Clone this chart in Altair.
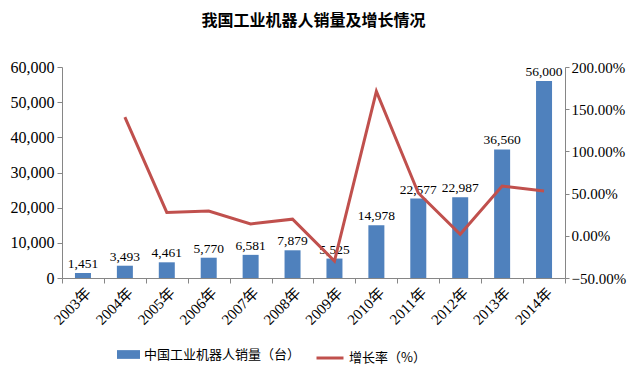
import altair as alt
import pandas as pd

years = ["2003年", "2004年", "2005年", "2006年", "2007年", "2008年",
         "2009年", "2010年", "2011年", "2012年", "2013年", "2014年"]
sales = [1451, 3493, 4461, 5770, 6581, 7879, 5525, 14978, 22577, 22987, 36560, 56000]
growth = [None, 1.407, 0.277, 0.293, 0.141, 0.197, -0.299, 1.711, 0.507, 0.018, 0.590, 0.532]

bar_name = "中国工业机器人销量（台）"
line_name = "增长率（%）"

df = pd.DataFrame({"year": years, "sales": sales, "growth": growth,
                   "s1": bar_name, "s2": line_name})

serif = "Liberation Serif, Noto Sans CJK SC"
cjk = "Noto Sans CJK SC"
blue = "#4F81BD"
red = "#C0504D"
gray = "#868686"

x = alt.X("year:N", sort=years, title=None,
          scale=alt.Scale(paddingInner=0, paddingOuter=0),
          axis=alt.Axis(labelAngle=-45, labelFont=serif, labelFontSize=15,
                        labelColor="#000", tickBand="extent", domainColor=gray,
                        tickColor=gray, tickSize=5, labelPadding=2))

y_left = alt.Y("sales:Q", title=None,
               scale=alt.Scale(domain=[0, 60000], nice=False),
               axis=alt.Axis(values=[0, 10000, 20000, 30000, 40000, 50000, 60000],
                             format=",d", grid=False, labelFont=serif, labelFontSize=16,
                             labelColor="#000", domainColor=gray, tickColor=gray,
                             tickSize=5, labelPadding=3, labelOverlap=False))

left_base = alt.Chart(df).encode(x=x, y=y_left)

bars = left_base.mark_bar(size=16).encode(
    fill=alt.Fill("s1:N", scale=alt.Scale(domain=[bar_name], range=[blue]),
                  legend=alt.Legend(title=None, orient="none", legendX=55, legendY=276,
                                    symbolType="M-1,-0.38H1V0.38H-1Z",
                                    symbolSize=529, symbolStrokeWidth=0,
                                    labelFont=cjk, labelFontSize=13,
                                    labelColor="#000")),
)

labels = left_base.mark_text(dy=-9, font=serif, fontSize=13.5, color="#000").encode(
    text=alt.Text("sales:Q", format=",d"),
)

line = alt.Chart(df).transform_filter("datum.growth != null").mark_line(strokeWidth=3).encode(
    x=x,
    y=alt.Y("growth:Q", title=None,
            scale=alt.Scale(domain=[-0.5, 2.0], nice=False),
            axis=alt.Axis(orient="right", values=[-0.5, 0, 0.5, 1.0, 1.5, 2.0],
                          format=".2%", grid=False, labelFont=serif, labelFontSize=15,
                          labelColor="#000", domainColor=gray, tickColor=gray,
                          tickSize=4, labelPadding=2, labelOverlap=False)),
    stroke=alt.Stroke("s2:N", scale=alt.Scale(domain=[line_name], range=[red]),
                      legend=alt.Legend(title=None, orient="none", legendX=253, legendY=276,
                                        symbolType="stroke", symbolSize=729,
                                        symbolStrokeWidth=3,
                                        labelFont=cjk, labelFontSize=13,
                                        labelColor="#000")),
)

left = alt.layer(bars, labels)
chart = alt.layer(left, line).resolve_scale(y="independent").properties(
    width=503, height=211,
    autosize=alt.AutoSizeParams(type="none"),
    padding={"left": 54, "top": 59, "right": 62, "bottom": 89},
    title=alt.TitleParams("我国工业机器人销量及增长情况", font=cjk, fontSize=16,
                          fontWeight="bold", color="#000", offset=30, anchor="middle"),
).configure_view(stroke=None).configure_legend(padding=0)

chart.save("out.html", embed_options={"renderer": "svg", "actions": False})
